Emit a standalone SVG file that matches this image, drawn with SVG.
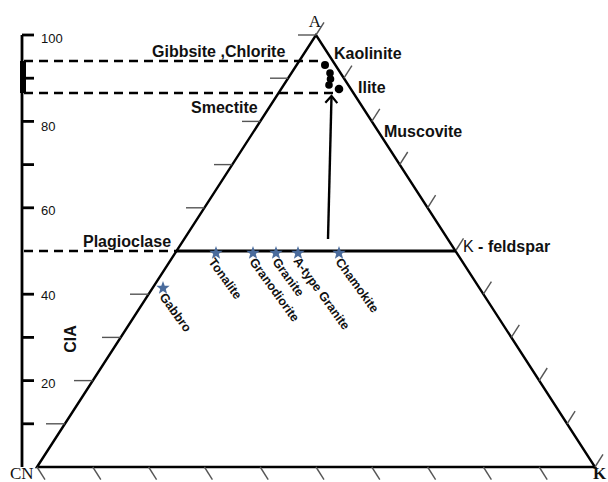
<svg xmlns="http://www.w3.org/2000/svg" width="608" height="482" viewBox="0 0 608 482">
<defs>
<style>
.edge{stroke:#000;stroke-width:2.4;fill:none;stroke-linecap:round}
.dash{stroke:#000;stroke-width:2.3;stroke-dasharray:9,6;fill:none}
.tk{stroke:#555;stroke-width:1.4;fill:none}
.ax{stroke:#000;stroke-width:2.8;fill:none}
.lbl{font-family:"Liberation Sans",Arial,sans-serif;font-weight:bold;font-size:16px;fill:#111}
.num{font-family:"Liberation Sans",Arial,sans-serif;font-size:13px;fill:#111}
.rot{font-family:"Liberation Sans",Arial,sans-serif;font-weight:bold;font-size:12.5px;fill:#111}
.ser{font-family:"Liberation Serif","Times New Roman",serif;font-size:17px;fill:#111}
.star{fill:#4a6b9c}
</style>
<path id="st" d="M0,-7 L1.7,-2.35 L6.66,-2.16 L2.76,0.9 L4.11,5.66 L0,2.9 L-4.11,5.66 L-2.76,0.9 L-6.66,-2.16 L-1.7,-2.35 Z"/>
<marker id="ah" markerWidth="14" markerHeight="14" refX="10" refY="7" orient="auto" markerUnits="userSpaceOnUse" viewBox="0 0 14 14">
<path d="M3,1 L10,7 L3,13" fill="none" stroke="#000" stroke-width="2.2"/>
</marker>
</defs>
<rect width="608" height="482" fill="#fff"/>

<g id="axis">
<line class="ax" x1="22" y1="35" x2="22" y2="467"/>
<rect x="20" y="61" width="6" height="32" fill="#000"/>
<g class="ax">
<line x1="22" y1="35" x2="34" y2="35"/>
<line x1="22" y1="78.2" x2="34" y2="78.2"/>
<line x1="22" y1="121.4" x2="34" y2="121.4"/>
<line x1="22" y1="164.6" x2="34" y2="164.6"/>
<line x1="22" y1="207.8" x2="34" y2="207.8"/>
<line x1="22" y1="294.2" x2="34" y2="294.2"/>
<line x1="22" y1="337.4" x2="34" y2="337.4"/>
<line x1="22" y1="380.6" x2="34" y2="380.6"/>
<line x1="22" y1="423.8" x2="34" y2="423.8"/>
</g>
<text class="num" x="41" y="43">100</text>
<text class="num" x="41" y="131">80</text>
<text class="num" x="41" y="215">60</text>
<text class="num" x="41" y="300">40</text>
<text class="num" x="41" y="388">20</text>
<text class="lbl" transform="translate(76,339) rotate(-90)" text-anchor="middle">CIA</text>
</g>

<g id="triangle">
<path class="edge" d="M37,467 L316,35 L595,467 Z"/>
<g class="tk">
<line x1="298" y1="35" x2="316" y2="35"/>
<line x1="270" y1="78.2" x2="288.1" y2="78.2"/>
<line x1="242" y1="121.4" x2="260.3" y2="121.4"/>
<line x1="214" y1="164.6" x2="232.3" y2="164.6"/>
<line x1="186" y1="207.8" x2="204.4" y2="207.8"/>
<line x1="130" y1="294.2" x2="148.6" y2="294.2"/>
<line x1="102" y1="337.4" x2="120.7" y2="337.4"/>
<line x1="74" y1="380.6" x2="92.8" y2="380.6"/>
<line x1="46" y1="423.8" x2="64.9" y2="423.8"/>
<line x1="316" y1="35" x2="324" y2="22.4"/>
<line x1="343.9" y1="78.2" x2="351.9" y2="65.6"/>
<line x1="371.8" y1="121.4" x2="379.8" y2="108.8"/>
<line x1="399.7" y1="164.6" x2="407.7" y2="152"/>
<line x1="427.6" y1="207.8" x2="435.6" y2="195.2"/>
<line x1="455.5" y1="251" x2="463.5" y2="238.4"/>
<line x1="483.4" y1="294.2" x2="491.4" y2="281.6"/>
<line x1="511.3" y1="337.4" x2="519.3" y2="324.8"/>
<line x1="539.2" y1="380.6" x2="547.2" y2="368"/>
<line x1="567.1" y1="423.8" x2="575.1" y2="411.2"/>
<line x1="595" y1="467" x2="603" y2="454.4"/>
<line x1="37" y1="467" x2="45" y2="479.6"/>
<line x1="92.8" y1="467" x2="100.8" y2="479.6"/>
<line x1="148.6" y1="467" x2="156.6" y2="479.6"/>
<line x1="204.4" y1="467" x2="212.4" y2="479.6"/>
<line x1="260.2" y1="467" x2="268.2" y2="479.6"/>
<line x1="316" y1="467" x2="324" y2="479.6"/>
<line x1="371.8" y1="467" x2="379.8" y2="479.6"/>
<line x1="427.6" y1="467" x2="435.6" y2="479.6"/>
<line x1="483.4" y1="467" x2="491.4" y2="479.6"/>
<line x1="539.2" y1="467" x2="547.2" y2="479.6"/>
</g>
<text class="ser" x="315" y="27" text-anchor="middle">A</text>
<text class="ser" x="10" y="479" font-size="15">CN</text>
<text class="ser" x="593" y="479" font-size="14" font-weight="bold">K</text>
</g>

<g id="connectors">
<line class="dash" x1="24" y1="61" x2="318" y2="61"/>
<line class="dash" x1="24" y1="93" x2="333" y2="93"/>
<line class="dash" x1="24" y1="251" x2="176" y2="251"/>
<line x1="176" y1="251" x2="456" y2="251" stroke="#000" stroke-width="2.8"/>
<line x1="328" y1="239" x2="331.5" y2="96" stroke="#000" stroke-width="2.4" marker-end="url(#ah)"/>
</g>

<g id="minerals">
<text class="lbl" x="152" y="57">Gibbsite ,Chlorite</text>
<text class="lbl" x="334" y="59">Kaolinite</text>
<text class="lbl" x="358" y="93">Ilite</text>
<text class="lbl" x="191" y="113">Smectite</text>
<text class="lbl" x="384" y="137">Muscovite</text>
<text class="lbl" x="83" y="247">Plagioclase</text>
<text class="lbl" x="463" y="252"><tspan font-weight="normal">K</tspan> - feldspar</text>
</g>

<g id="samples" fill="#000">
<circle cx="325" cy="65" r="4"/>
<circle cx="330" cy="73" r="3.8"/>
<circle cx="330.5" cy="79" r="3.8"/>
<circle cx="329" cy="85" r="3.8"/>
<circle cx="339" cy="89" r="4.3"/>
</g>

<g id="rocks">
<use href="#st" class="star" x="163" y="288"/>
<use href="#st" class="star" x="216" y="253"/>
<use href="#st" class="star" x="253" y="253"/>
<use href="#st" class="star" x="276" y="253"/>
<use href="#st" class="star" x="298" y="253"/>
<use href="#st" class="star" x="339" y="253"/>
<text class="rot" transform="translate(159,297) rotate(54)">Gabbro</text>
<text class="rot" transform="translate(208,262) rotate(54)">Tonalite</text>
<text class="rot" transform="translate(249,262) rotate(54)">Granodiorite</text>
<text class="rot" transform="translate(272,262) rotate(54)">Granite</text>
<text class="rot" transform="translate(293,261) rotate(54)">A-type Granite</text>
<text class="rot" transform="translate(335,262) rotate(54)">Chamokite</text>
</g>
</svg>
